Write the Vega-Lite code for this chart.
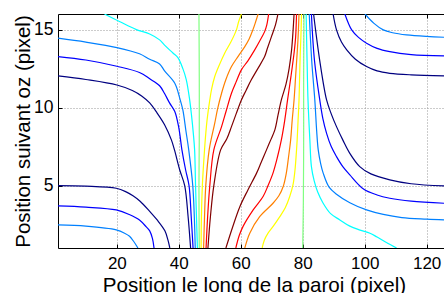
{
"$schema": "https://vega.github.io/schema/vega-lite/v6.json",
"width": 386, "height": 234,
"autosize": {"type": "none"},
"padding": {"left": 58, "top": 14, "right": 0, "bottom": 45},
"background": "white",
"config": {"view": {"stroke": null}, "font": "Liberation Sans"},
"data": {"values": [
{"c":"A","l":1,"i":0,"x":1,"y":12.03},{"c":"A","l":1,"i":1,"x":10,"y":11.8},{"c":"A","l":1,"i":2,"x":20,"y":11.45},{"c":"A","l":1,"i":3,"x":25,"y":11.1},{"c":"A","l":1,"i":4,"x":28,"y":10.75},{"c":"A","l":1,"i":5,"x":30.6,"y":10.3},{"c":"A","l":1,"i":6,"x":33,"y":9.65},{"c":"A","l":1,"i":7,"x":35.4,"y":8.9},{"c":"A","l":1,"i":8,"x":37.6,"y":7.93},{"c":"A","l":1,"i":9,"x":38.6,"y":7.29},{"c":"A","l":1,"i":10,"x":40.3,"y":6},{"c":"A","l":1,"i":11,"x":41.9,"y":5},{"c":"A","l":1,"i":12,"x":43,"y":3},{"c":"A","l":1,"i":13,"x":43.8,"y":1},
{"c":"B","l":2,"i":0,"x":1,"y":13.27},{"c":"B","l":2,"i":1,"x":10,"y":13.05},{"c":"B","l":2,"i":2,"x":20,"y":12.65},{"c":"B","l":2,"i":3,"x":27.3,"y":12.25},{"c":"B","l":2,"i":4,"x":30.6,"y":11.85},{"c":"B","l":2,"i":5,"x":33.8,"y":11.4},{"c":"B","l":2,"i":6,"x":35.4,"y":10.9},{"c":"B","l":2,"i":7,"x":37,"y":10.3},{"c":"B","l":2,"i":8,"x":38.7,"y":9.75},{"c":"B","l":2,"i":9,"x":40,"y":8.7},{"c":"B","l":2,"i":10,"x":41,"y":7.29},{"c":"B","l":2,"i":11,"x":42.2,"y":6},{"c":"B","l":2,"i":12,"x":43.3,"y":5},{"c":"B","l":2,"i":13,"x":44,"y":3},{"c":"B","l":2,"i":14,"x":44.6,"y":1},
{"c":"C","l":3,"i":0,"x":1,"y":14.45},{"c":"C","l":3,"i":1,"x":10,"y":14.2},{"c":"C","l":3,"i":2,"x":20,"y":13.85},{"c":"C","l":3,"i":3,"x":27.3,"y":13.45},{"c":"C","l":3,"i":4,"x":30.6,"y":13.1},{"c":"C","l":3,"i":5,"x":33.8,"y":12.8},{"c":"C","l":3,"i":6,"x":35.4,"y":12.35},{"c":"C","l":3,"i":7,"x":38.7,"y":11.56},{"c":"C","l":3,"i":8,"x":40.3,"y":10.6},{"c":"C","l":3,"i":9,"x":41.3,"y":9.85},{"c":"C","l":3,"i":10,"x":42.3,"y":8.5},{"c":"C","l":3,"i":11,"x":43.2,"y":7.29},{"c":"C","l":3,"i":12,"x":44.5,"y":5},{"c":"C","l":3,"i":13,"x":45,"y":3},{"c":"C","l":3,"i":14,"x":45.3,"y":1},
{"c":"D","l":4,"i":0,"x":16,"y":16},{"c":"D","l":4,"i":1,"x":21,"y":15.5},{"c":"D","l":4,"i":2,"x":26.3,"y":15.0},{"c":"D","l":4,"i":3,"x":30.6,"y":14.72},{"c":"D","l":4,"i":4,"x":33.8,"y":14.34},{"c":"D","l":4,"i":5,"x":35.4,"y":14.0},{"c":"D","l":4,"i":6,"x":38.1,"y":13.5},{"c":"D","l":4,"i":7,"x":39.7,"y":13.2},{"c":"D","l":4,"i":8,"x":41.3,"y":12.5},{"c":"D","l":4,"i":9,"x":42.4,"y":11.8},{"c":"D","l":4,"i":10,"x":43.5,"y":10.5},{"c":"D","l":4,"i":11,"x":44.1,"y":9.5},{"c":"D","l":4,"i":12,"x":44.7,"y":8.3},{"c":"D","l":4,"i":13,"x":45.1,"y":7.29},{"c":"D","l":4,"i":14,"x":45.4,"y":5},{"c":"D","l":4,"i":15,"x":45.7,"y":3},{"c":"D","l":4,"i":16,"x":46,"y":1},
{"c":"E","l":5,"i":0,"x":46.5,"y":16},{"c":"E","l":5,"i":1,"x":46.6,"y":12},{"c":"E","l":5,"i":2,"x":46.6,"y":8},{"c":"E","l":5,"i":3,"x":46.5,"y":5},{"c":"E","l":5,"i":4,"x":46.6,"y":1},
{"c":"F","l":6,"i":0,"x":60.2,"y":16},{"c":"F","l":6,"i":1,"x":59.3,"y":15.5},{"c":"F","l":6,"i":2,"x":58.6,"y":14.98},{"c":"F","l":6,"i":3,"x":56.8,"y":14.2},{"c":"F","l":6,"i":4,"x":54.8,"y":13.49},{"c":"F","l":6,"i":5,"x":53,"y":12.7},{"c":"F","l":6,"i":6,"x":51.6,"y":11.99},{"c":"F","l":6,"i":7,"x":50.6,"y":11.2},{"c":"F","l":6,"i":8,"x":50,"y":10.49},{"c":"F","l":6,"i":9,"x":49.3,"y":9.5},{"c":"F","l":6,"i":10,"x":48.9,"y":8.78},{"c":"F","l":6,"i":11,"x":48.3,"y":7.29},{"c":"F","l":6,"i":12,"x":47.6,"y":5},{"c":"F","l":6,"i":13,"x":47.3,"y":3},{"c":"F","l":6,"i":14,"x":47.2,"y":1},
{"c":"G","l":7,"i":0,"x":65.6,"y":16},{"c":"G","l":7,"i":1,"x":64.8,"y":15.5},{"c":"G","l":7,"i":2,"x":63.9,"y":14.98},{"c":"G","l":7,"i":3,"x":62.7,"y":14.4},{"c":"G","l":7,"i":4,"x":61.3,"y":13.91},{"c":"G","l":7,"i":5,"x":59.2,"y":13.3},{"c":"G","l":7,"i":6,"x":57,"y":12.63},{"c":"G","l":7,"i":7,"x":55.2,"y":11.8},{"c":"G","l":7,"i":8,"x":53.8,"y":10.92},{"c":"G","l":7,"i":9,"x":52.5,"y":9.9},{"c":"G","l":7,"i":10,"x":51.6,"y":9.0},{"c":"G","l":7,"i":11,"x":49.8,"y":7.29},{"c":"G","l":7,"i":12,"x":48.7,"y":5},{"c":"G","l":7,"i":13,"x":48.3,"y":3},{"c":"G","l":7,"i":14,"x":48,"y":1},
{"c":"H","l":8,"i":0,"x":69,"y":16},{"c":"H","l":8,"i":1,"x":68.4,"y":15.3},{"c":"H","l":8,"i":2,"x":67.7,"y":14.87},{"c":"H","l":8,"i":3,"x":66.2,"y":14.3},{"c":"H","l":8,"i":4,"x":64.5,"y":13.7},{"c":"H","l":8,"i":5,"x":62.3,"y":13},{"c":"H","l":8,"i":6,"x":60.2,"y":12.42},{"c":"H","l":8,"i":7,"x":58.4,"y":11.6},{"c":"H","l":8,"i":8,"x":57,"y":10.92},{"c":"H","l":8,"i":9,"x":55.3,"y":9.8},{"c":"H","l":8,"i":10,"x":53.8,"y":8.78},{"c":"H","l":8,"i":11,"x":51.3,"y":7.29},{"c":"H","l":8,"i":12,"x":50,"y":5},{"c":"H","l":8,"i":13,"x":49.3,"y":3},{"c":"H","l":8,"i":14,"x":48.8,"y":1},
{"c":"I","l":9,"i":0,"x":72,"y":16},{"c":"I","l":9,"i":1,"x":71.2,"y":15.3},{"c":"I","l":9,"i":2,"x":69.9,"y":14.55},{"c":"I","l":9,"i":3,"x":68.6,"y":13.8},{"c":"I","l":9,"i":4,"x":67.7,"y":13.27},{"c":"I","l":9,"i":5,"x":65.5,"y":12.5},{"c":"I","l":9,"i":6,"x":63.4,"y":11.78},{"c":"I","l":9,"i":7,"x":61.7,"y":11.1},{"c":"I","l":9,"i":8,"x":60.2,"y":10.49},{"c":"I","l":9,"i":9,"x":58.5,"y":9.6},{"c":"I","l":9,"i":10,"x":57,"y":8.78},{"c":"I","l":9,"i":11,"x":55.5,"y":8},{"c":"I","l":9,"i":12,"x":53.5,"y":7.29},{"c":"I","l":9,"i":13,"x":51.3,"y":5},{"c":"I","l":9,"i":14,"x":50.2,"y":3},{"c":"I","l":9,"i":15,"x":49.4,"y":1},
{"c":"J","l":9,"i":0,"x":77.2,"y":16},{"c":"J","l":9,"i":1,"x":76.9,"y":15},{"c":"J","l":9,"i":2,"x":76.4,"y":13.7},{"c":"J","l":9,"i":3,"x":75.6,"y":12.5},{"c":"J","l":9,"i":4,"x":74.6,"y":11.5},{"c":"J","l":9,"i":5,"x":73.1,"y":10.49},{"c":"J","l":9,"i":6,"x":72,"y":9.5},{"c":"J","l":9,"i":7,"x":71,"y":8.57},{"c":"J","l":9,"i":8,"x":69.6,"y":7.9},{"c":"J","l":9,"i":9,"x":68.3,"y":7.29},{"c":"J","l":9,"i":10,"x":66.6,"y":6.5},{"c":"J","l":9,"i":11,"x":65.1,"y":5.8},{"c":"J","l":9,"i":12,"x":62.3,"y":4.72},{"c":"J","l":9,"i":13,"x":59.7,"y":3.65},{"c":"J","l":9,"i":14,"x":57.3,"y":2.3},{"c":"J","l":9,"i":15,"x":55.2,"y":1},
{"c":"K","l":8,"i":0,"x":78,"y":16},{"c":"K","l":8,"i":1,"x":77.7,"y":14.5},{"c":"K","l":8,"i":2,"x":77.2,"y":13.5},{"c":"K","l":8,"i":3,"x":76.2,"y":12},{"c":"K","l":8,"i":4,"x":75.1,"y":10.49},{"c":"K","l":8,"i":5,"x":74.2,"y":9.2},{"c":"K","l":8,"i":6,"x":73.1,"y":7.93},{"c":"K","l":8,"i":7,"x":71.8,"y":6.8},{"c":"K","l":8,"i":8,"x":70.4,"y":5.8},{"c":"K","l":8,"i":9,"x":68.8,"y":5},{"c":"K","l":8,"i":10,"x":67.2,"y":4.3},{"c":"K","l":8,"i":11,"x":64,"y":3.44},{"c":"K","l":8,"i":12,"x":60.7,"y":2.37},{"c":"K","l":8,"i":13,"x":59.5,"y":1.8},{"c":"K","l":8,"i":14,"x":58.4,"y":1},
{"c":"L","l":7,"i":0,"x":78.8,"y":16},{"c":"L","l":7,"i":1,"x":78.5,"y":14.5},{"c":"L","l":7,"i":2,"x":78.2,"y":13.5},{"c":"L","l":7,"i":3,"x":77.7,"y":12},{"c":"L","l":7,"i":4,"x":77.2,"y":10.49},{"c":"L","l":7,"i":5,"x":76.6,"y":9.2},{"c":"L","l":7,"i":6,"x":76.1,"y":7.93},{"c":"L","l":7,"i":7,"x":75.4,"y":6.8},{"c":"L","l":7,"i":8,"x":74.7,"y":5.8},{"c":"L","l":7,"i":9,"x":73.7,"y":4.94},{"c":"L","l":7,"i":10,"x":72.3,"y":4.35},{"c":"L","l":7,"i":11,"x":70.4,"y":3.87},{"c":"L","l":7,"i":12,"x":66.1,"y":3.01},{"c":"L","l":7,"i":13,"x":62.9,"y":1.95},{"c":"L","l":7,"i":14,"x":61.3,"y":1},
{"c":"M","l":6,"i":0,"x":79.6,"y":16},{"c":"M","l":6,"i":1,"x":79.4,"y":14.5},{"c":"M","l":6,"i":2,"x":79.2,"y":13.5},{"c":"M","l":6,"i":3,"x":79,"y":12},{"c":"M","l":6,"i":4,"x":78.8,"y":10.49},{"c":"M","l":6,"i":5,"x":78.5,"y":9.2},{"c":"M","l":6,"i":6,"x":78.2,"y":7.93},{"c":"M","l":6,"i":7,"x":77.9,"y":7},{"c":"M","l":6,"i":8,"x":77.5,"y":6},{"c":"M","l":6,"i":9,"x":76.9,"y":5.1},{"c":"M","l":6,"i":10,"x":75.8,"y":4.3},{"c":"M","l":6,"i":11,"x":74.4,"y":3.6},{"c":"M","l":6,"i":12,"x":72.6,"y":3.01},{"c":"M","l":6,"i":13,"x":70.5,"y":2.4},{"c":"M","l":6,"i":14,"x":68.8,"y":1.95},{"c":"M","l":6,"i":15,"x":67.6,"y":1.5},{"c":"M","l":6,"i":16,"x":66.9,"y":1},
{"c":"N","l":5,"i":0,"x":80.4,"y":16},{"c":"N","l":5,"i":1,"x":80.3,"y":12},{"c":"N","l":5,"i":2,"x":80.3,"y":8},{"c":"N","l":5,"i":3,"x":80.2,"y":4},{"c":"N","l":5,"i":4,"x":80,"y":1},
{"c":"O","l":4,"i":0,"x":81.1,"y":16},{"c":"O","l":4,"i":1,"x":81.4,"y":13},{"c":"O","l":4,"i":2,"x":81.7,"y":10.49},{"c":"O","l":4,"i":3,"x":82.3,"y":7.93},{"c":"O","l":4,"i":4,"x":82.8,"y":6.22},{"c":"O","l":4,"i":5,"x":83.7,"y":5.3},{"c":"O","l":4,"i":6,"x":84.8,"y":4.6},{"c":"O","l":4,"i":7,"x":86.5,"y":3.9},{"c":"O","l":4,"i":8,"x":89,"y":3.2},{"c":"O","l":4,"i":9,"x":92,"y":2.8},{"c":"O","l":4,"i":10,"x":95.2,"y":2.4},{"c":"O","l":4,"i":11,"x":98.5,"y":2.15},{"c":"O","l":4,"i":12,"x":101.7,"y":1.95},{"c":"O","l":4,"i":13,"x":104,"y":1.7},{"c":"O","l":4,"i":14,"x":107,"y":1.35},{"c":"O","l":4,"i":15,"x":110.3,"y":1},
{"c":"P","l":3,"i":0,"x":82.1,"y":16},{"c":"P","l":3,"i":1,"x":82.9,"y":13},{"c":"P","l":3,"i":2,"x":83.9,"y":10.49},{"c":"P","l":3,"i":3,"x":84.5,"y":8.5},{"c":"P","l":3,"i":4,"x":85,"y":7.29},{"c":"P","l":3,"i":5,"x":85.8,"y":6.4},{"c":"P","l":3,"i":6,"x":86.6,"y":5.8},{"c":"P","l":3,"i":7,"x":88.5,"y":4.9},{"c":"P","l":3,"i":8,"x":90.9,"y":4.45},{"c":"P","l":3,"i":9,"x":95.2,"y":3.9},{"c":"P","l":3,"i":10,"x":100.6,"y":3.44},{"c":"P","l":3,"i":11,"x":106,"y":3.15},{"c":"P","l":3,"i":12,"x":112,"y":2.95},{"c":"P","l":3,"i":13,"x":120,"y":2.85},{"c":"P","l":3,"i":14,"x":125.6,"y":2.8},
{"c":"Q","l":2,"i":0,"x":82.8,"y":16},{"c":"Q","l":2,"i":1,"x":83.8,"y":13},{"c":"Q","l":2,"i":2,"x":85.5,"y":10.49},{"c":"Q","l":2,"i":3,"x":86.5,"y":9.3},{"c":"Q","l":2,"i":4,"x":87.7,"y":8.35},{"c":"Q","l":2,"i":5,"x":89.2,"y":7.5},{"c":"Q","l":2,"i":6,"x":90.9,"y":6.86},{"c":"Q","l":2,"i":7,"x":93,"y":6.2},{"c":"Q","l":2,"i":8,"x":95.2,"y":5.69},{"c":"Q","l":2,"i":9,"x":99.5,"y":4.8},{"c":"Q","l":2,"i":10,"x":104,"y":4.4},{"c":"Q","l":2,"i":11,"x":108.1,"y":4.19},{"c":"Q","l":2,"i":12,"x":115,"y":4.0},{"c":"Q","l":2,"i":13,"x":125.6,"y":3.87},
{"c":"R","l":1,"i":0,"x":83.5,"y":16},{"c":"R","l":1,"i":1,"x":85.5,"y":13},{"c":"R","l":1,"i":2,"x":87.7,"y":10.49},{"c":"R","l":1,"i":3,"x":89.2,"y":9.6},{"c":"R","l":1,"i":4,"x":90.9,"y":8.78},{"c":"R","l":1,"i":5,"x":93,"y":7.9},{"c":"R","l":1,"i":6,"x":95.2,"y":7.07},{"c":"R","l":1,"i":7,"x":98.4,"y":6.22},{"c":"R","l":1,"i":8,"x":102,"y":5.75},{"c":"R","l":1,"i":9,"x":108.1,"y":5.37},{"c":"R","l":1,"i":10,"x":115,"y":5.12},{"c":"R","l":1,"i":11,"x":125.6,"y":4.98},
{"c":"S","l":1,"i":0,"x":89.8,"y":16},{"c":"S","l":1,"i":1,"x":90.9,"y":14.98},{"c":"S","l":1,"i":2,"x":92.5,"y":14.2},{"c":"S","l":1,"i":3,"x":94.2,"y":13.7},{"c":"S","l":1,"i":4,"x":97,"y":13.1},{"c":"S","l":1,"i":5,"x":100.6,"y":12.63},{"c":"S","l":1,"i":6,"x":104,"y":12.35},{"c":"S","l":1,"i":7,"x":108.1,"y":12.2},{"c":"S","l":1,"i":8,"x":115,"y":12.1},{"c":"S","l":1,"i":9,"x":125.6,"y":12.03},
{"c":"T","l":2,"i":0,"x":93.6,"y":16},{"c":"T","l":2,"i":1,"x":95.8,"y":14.98},{"c":"T","l":2,"i":2,"x":98,"y":14.5},{"c":"T","l":2,"i":3,"x":100.6,"y":14.13},{"c":"T","l":2,"i":4,"x":104,"y":13.8},{"c":"T","l":2,"i":5,"x":108.1,"y":13.59},{"c":"T","l":2,"i":6,"x":115,"y":13.4},{"c":"T","l":2,"i":7,"x":125.6,"y":13.31},
{"c":"U","l":3,"i":0,"x":100.1,"y":16},{"c":"U","l":3,"i":1,"x":103,"y":15.4},{"c":"U","l":3,"i":2,"x":106,"y":14.98},{"c":"U","l":3,"i":3,"x":109,"y":14.8},{"c":"U","l":3,"i":4,"x":113.5,"y":14.66},{"c":"U","l":3,"i":5,"x":120,"y":14.56},{"c":"U","l":3,"i":6,"x":125.6,"y":14.51},
{"c":"V","l":1,"i":0,"x":1,"y":5},{"c":"V","l":1,"i":1,"x":10,"y":4.97},{"c":"V","l":1,"i":2,"x":19.8,"y":4.83},{"c":"V","l":1,"i":3,"x":23,"y":4.6},{"c":"V","l":1,"i":4,"x":25.2,"y":4.35},{"c":"V","l":1,"i":5,"x":27.5,"y":4.0},{"c":"V","l":1,"i":6,"x":30.6,"y":3.35},{"c":"V","l":1,"i":7,"x":33,"y":2.8},{"c":"V","l":1,"i":8,"x":35.5,"y":2.1},{"c":"V","l":1,"i":9,"x":36.5,"y":1.5},{"c":"V","l":1,"i":10,"x":37.1,"y":1},
{"c":"W","l":2,"i":0,"x":1,"y":3.7},{"c":"W","l":2,"i":1,"x":10,"y":3.62},{"c":"W","l":2,"i":2,"x":19.8,"y":3.44},{"c":"W","l":2,"i":3,"x":24,"y":3.15},{"c":"W","l":2,"i":4,"x":27.3,"y":2.8},{"c":"W","l":2,"i":5,"x":29.5,"y":2.35},{"c":"W","l":2,"i":6,"x":30.6,"y":2.1},{"c":"W","l":2,"i":7,"x":31.5,"y":1.6},{"c":"W","l":2,"i":8,"x":32,"y":1},
{"c":"X","l":3,"i":0,"x":1,"y":2.48},{"c":"X","l":3,"i":1,"x":10,"y":2.4},{"c":"X","l":3,"i":2,"x":19.8,"y":2.16},{"c":"X","l":3,"i":3,"x":22.5,"y":1.95},{"c":"X","l":3,"i":4,"x":24.1,"y":1.75},{"c":"X","l":3,"i":5,"x":25.5,"y":1.4},{"c":"X","l":3,"i":6,"x":26.8,"y":1}
]},
"layer": [
{"mark": {"type": "line", "clip": true, "interpolate": "catmull-rom", "strokeWidth": 1.2},
 "encoding": {
  "x": {"field": "x", "type": "quantitative", "scale": {"domain": [1, 125.6], "nice": false, "zero": false},
        "axis": {"orient": "bottom", "values": [20, 40, 60, 80, 100, 120], "grid": true, "gridDash": [1, 2], "gridColor": "#999999", "gridWidth": 1,
                 "domainColor": "black", "domainWidth": 1, "ticks": true, "tickSize": -4, "tickColor": "black",
                 "labelFont": "Liberation Sans", "labelFontSize": 17, "labelColor": "black", "labelBaseline": "alphabetic", "labelPadding": 24.5, "labelFlush": false,
                 "title": "Position le long de la paroi (pixel)", "titleFont": "Liberation Sans", "titleFontSize": 20.6, "titleFontWeight": "normal", "titleColor": "black",
                 "titleX": 196, "titleY": 43, "titleAlign": "center", "titleBaseline": "alphabetic"}},
  "y": {"field": "y", "type": "quantitative", "scale": {"domain": [1, 16], "nice": false, "zero": false},
        "axis": {"orient": "left", "values": [5, 10, 15], "grid": true, "gridDash": [1, 2], "gridColor": "#999999", "gridWidth": 1,
                 "domainColor": "black", "domainWidth": 1, "ticks": true, "tickSize": -4, "tickColor": "black",
                 "labelFont": "Liberation Sans", "labelFontSize": 17.5, "labelColor": "black", "labelPadding": 9, "labelFlush": false,
                 "title": "Position suivant oz (pixel)", "titleFont": "Liberation Sans", "titleFontSize": 20.5, "titleFontWeight": "normal", "titleColor": "black",
                 "titleX": -29, "titleY": 117, "titleAngle": -90, "titleAlign": "center", "titleBaseline": "alphabetic"}},
  "color": {"field": "l", "type": "ordinal", "legend": null,
            "scale": {"domain": [1, 2, 3, 4, 5, 6, 7, 8, 9], "range": ["#000080", "#0000ff", "#0080ff", "#00ffff", "#80ff80", "#ffff00", "#ff8000", "#ff0000", "#800000"]}},
  "detail": {"field": "c"},
  "order": {"field": "i", "type": "quantitative"}
 }},
{"mark": {"type": "point", "opacity": 0},
 "encoding": {
  "x": {"field": "x", "type": "quantitative",
        "axis": {"orient": "top", "values": [20, 40, 60, 80, 100, 120], "labels": false, "title": null, "grid": false, "domainColor": "black", "domainWidth": 1, "ticks": true, "tickSize": -4, "tickColor": "black"}}
 }}
],
"resolve": {"axis": {"x": "independent"}}
}
